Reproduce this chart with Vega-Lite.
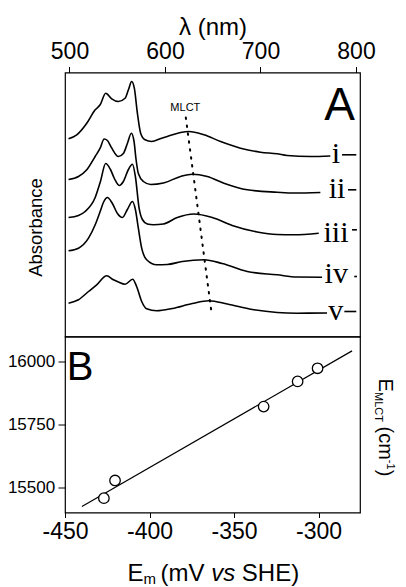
{
  "$schema": "https://vega.github.io/schema/vega-lite/v6.json",
  "background": "white",
  "padding": {"left": 6, "top": 14.5, "right": 0, "bottom": 0},
  "spacing": 0,
  "bounds": "flush",
  "config": {
    "view": {"stroke": "black", "strokeWidth": 1.2},
    "font": "Liberation Sans",
    "axis": {"grid": false, "domain": false, "labelColor": "black", "titleColor": "black", "tickColor": "black", "labelFont": "Liberation Sans", "titleFont": "Liberation Sans", "titleFontWeight": "normal", "labelFlush": false, "labelOverlap": false}
  },
  "datasets": {
    "spectra": [
      {"s":"i","p":"main","nm":499.0,"abs":197.7},{"s":"i","p":"main","nm":507.6,"abs":201.7},{"s":"i","p":"main","nm":518.1,"abs":213.3},{"s":"i","p":"main","nm":526.9,"abs":226.7},{"s":"i","p":"main","nm":532.1,"abs":231.7},{"s":"i","p":"main","nm":537.9,"abs":243.3},{"s":"i","p":"main","nm":544.2,"abs":237.7},{"s":"i","p":"main","nm":551.2,"abs":235},{"s":"i","p":"main","nm":558.2,"abs":238.3},{"s":"i","p":"main","nm":561.7,"abs":246.7},{"s":"i","p":"main","nm":565.1,"abs":255},{"s":"i","p":"main","nm":567.9,"abs":248.3},{"s":"i","p":"main","nm":571.1,"abs":223.3},{"s":"i","p":"main","nm":574.5,"abs":203.3},{"s":"i","p":"main","nm":579.1,"abs":196.7},{"s":"i","p":"main","nm":586.0,"abs":195},{"s":"i","p":"main","nm":596.5,"abs":198.3},{"s":"i","p":"main","nm":602.4,"abs":200},{"s":"i","p":"main","nm":616.3,"abs":204},{"s":"i","p":"main","nm":625.1,"abs":205},{"s":"i","p":"main","nm":640.8,"abs":201.7},{"s":"i","p":"main","nm":658.2,"abs":195},{"s":"i","p":"main","nm":679.1,"abs":188.3},{"s":"i","p":"main","nm":700.0,"abs":184.3},{"s":"i","p":"main","nm":717.4,"abs":182.7},{"s":"i","p":"main","nm":727.9,"abs":181},{"s":"i","p":"main","nm":752.2,"abs":180},{"s":"i","p":"main","nm":773.1,"abs":180.5},
      {"s":"i","p":"tail","nm":785.4,"abs":181.7},{"s":"i","p":"tail","nm":800.3,"abs":181.7},
      {"s":"ii","p":"main","nm":499.0,"abs":157},{"s":"ii","p":"main","nm":509.4,"abs":160},{"s":"ii","p":"main","nm":518.1,"abs":166.7},{"s":"ii","p":"main","nm":526.9,"abs":180},{"s":"ii","p":"main","nm":532.1,"abs":188.3},{"s":"ii","p":"main","nm":536.3,"abs":197.5},{"s":"ii","p":"main","nm":539.7,"abs":196},{"s":"ii","p":"main","nm":543.9,"abs":189},{"s":"ii","p":"main","nm":551.2,"abs":180},{"s":"ii","p":"main","nm":556.4,"abs":183},{"s":"ii","p":"main","nm":560.6,"abs":193},{"s":"ii","p":"main","nm":564.8,"abs":203.3},{"s":"ii","p":"main","nm":567.6,"abs":195},{"s":"ii","p":"main","nm":569.7,"abs":177},{"s":"ii","p":"main","nm":572.1,"abs":163},{"s":"ii","p":"main","nm":577.4,"abs":155},{"s":"ii","p":"main","nm":585.0,"abs":152},{"s":"ii","p":"main","nm":598.3,"abs":153.5},{"s":"ii","p":"main","nm":616.3,"abs":160},{"s":"ii","p":"main","nm":628.6,"abs":162.3},{"s":"ii","p":"main","nm":644.3,"abs":160},{"s":"ii","p":"main","nm":661.7,"abs":153.3},{"s":"ii","p":"main","nm":686.1,"abs":146.7},{"s":"ii","p":"main","nm":717.4,"abs":144.3},{"s":"ii","p":"main","nm":734.9,"abs":143.5},{"s":"ii","p":"main","nm":762.7,"abs":144},
      {"s":"ii","p":"tail","nm":791.6,"abs":146.7},{"s":"ii","p":"tail","nm":800.3,"abs":146.7},
      {"s":"iii","p":"main","nm":499.0,"abs":119},{"s":"iii","p":"main","nm":509.4,"abs":121},{"s":"iii","p":"main","nm":516.4,"abs":125},{"s":"iii","p":"main","nm":526.9,"abs":139},{"s":"iii","p":"main","nm":532.4,"abs":155},{"s":"iii","p":"main","nm":537.9,"abs":173},{"s":"iii","p":"main","nm":542.9,"abs":167},{"s":"iii","p":"main","nm":547.0,"abs":158},{"s":"iii","p":"main","nm":552.0,"abs":151},{"s":"iii","p":"main","nm":556.4,"abs":155},{"s":"iii","p":"main","nm":561.7,"abs":167},{"s":"iii","p":"main","nm":565.9,"abs":172.3},{"s":"iii","p":"main","nm":569.0,"abs":160},{"s":"iii","p":"main","nm":572.9,"abs":128.3},{"s":"iii","p":"main","nm":576.3,"abs":117},{"s":"iii","p":"main","nm":581.5,"abs":112.5},{"s":"iii","p":"main","nm":587.8,"abs":111.7},{"s":"iii","p":"main","nm":598.3,"abs":112.5},{"s":"iii","p":"main","nm":612.9,"abs":119},{"s":"iii","p":"main","nm":630.3,"abs":122.5},{"s":"iii","p":"main","nm":649.5,"abs":119},{"s":"iii","p":"main","nm":670.4,"abs":111},{"s":"iii","p":"main","nm":696.5,"abs":104.5},{"s":"iii","p":"main","nm":717.4,"abs":102},{"s":"iii","p":"main","nm":734.9,"abs":101.7},{"s":"iii","p":"main","nm":761.0,"abs":103.3},
      {"s":"iii","p":"tail","nm":795.8,"abs":106.7},{"s":"iii","p":"tail","nm":801.0,"abs":106.7},
      {"s":"iv","p":"main","nm":499.0,"abs":85.7},{"s":"iv","p":"main","nm":509.4,"abs":88.3},{"s":"iv","p":"main","nm":519.9,"abs":98.3},{"s":"iv","p":"main","nm":526.9,"abs":111.7},{"s":"iv","p":"main","nm":532.1,"abs":125},{"s":"iv","p":"main","nm":535.5,"abs":134},{"s":"iv","p":"main","nm":539.7,"abs":139},{"s":"iv","p":"main","nm":544.9,"abs":133},{"s":"iv","p":"main","nm":550.2,"abs":123},{"s":"iv","p":"main","nm":555.4,"abs":119},{"s":"iv","p":"main","nm":560.6,"abs":127},{"s":"iv","p":"main","nm":565.9,"abs":135},{"s":"iv","p":"main","nm":569.0,"abs":127},{"s":"iv","p":"main","nm":572.1,"abs":108.3},{"s":"iv","p":"main","nm":575.6,"abs":88.3},{"s":"iv","p":"main","nm":580.8,"abs":76.7},{"s":"iv","p":"main","nm":591.3,"abs":71.7},{"s":"iv","p":"main","nm":602.4,"abs":72},{"s":"iv","p":"main","nm":618.1,"abs":75},{"s":"iv","p":"main","nm":640.8,"abs":76.7},{"s":"iv","p":"main","nm":659.9,"abs":73},{"s":"iv","p":"main","nm":686.1,"abs":65},{"s":"iv","p":"main","nm":717.4,"abs":61.7},{"s":"iv","p":"main","nm":738.3,"abs":59.5},{"s":"iv","p":"main","nm":764.5,"abs":59.3},
      {"s":"iv","p":"tail","nm":798.2,"abs":60},{"s":"iv","p":"tail","nm":801.0,"abs":60},
      {"s":"v","p":"main","nm":499.0,"abs":33.3},{"s":"v","p":"main","nm":509.4,"abs":36.7},{"s":"v","p":"main","nm":519.9,"abs":45},{"s":"v","p":"main","nm":528.5,"abs":51.7},{"s":"v","p":"main","nm":539.0,"abs":60.7},{"s":"v","p":"main","nm":546.0,"abs":56.7},{"s":"v","p":"main","nm":551.2,"abs":54.5},{"s":"v","p":"main","nm":558.2,"abs":52.3},{"s":"v","p":"main","nm":566.2,"abs":57.3},{"s":"v","p":"main","nm":570.3,"abs":50},{"s":"v","p":"main","nm":575.6,"abs":35},{"s":"v","p":"main","nm":580.8,"abs":27.7},{"s":"v","p":"main","nm":591.3,"abs":25.7},{"s":"v","p":"main","nm":607.7,"abs":28},{"s":"v","p":"main","nm":628.6,"abs":33},{"s":"v","p":"main","nm":646.0,"abs":35.7},{"s":"v","p":"main","nm":665.2,"abs":32.5},{"s":"v","p":"main","nm":691.3,"abs":27},{"s":"v","p":"main","nm":717.4,"abs":24},{"s":"v","p":"main","nm":738.3,"abs":23.3},{"s":"v","p":"main","nm":769.7,"abs":23.5},
      {"s":"v","p":"tail","nm":787.8,"abs":25},{"s":"v","p":"tail","nm":800.3,"abs":25}
    ],
    "mlct": [{"nm":621.8,"abs":219},{"nm":648.7,"abs":24}],
    "labels": [
      {"s":"i","nm":779.1,"abs":173.3},{"s":"ii","nm":780.1,"abs":138.3},{"s":"iii","nm":779.1,"abs":95},{"s":"iv","nm":779.3,"abs":53.3},{"s":"v","nm":778.9,"abs":16.7}
    ],
    "fit": [{"em":-440,"e":15425},{"em":-280.2,"e":16042}],
    "redox": [{"em":-427,"e":15458},{"em":-420.4,"e":15528},{"em":-332.5,"e":15821},{"em":-312.4,"e":15921},{"em":-300.6,"e":15973}]
  },
  "vconcat": [
    {
      "width": 295,
      "height": 264,
      "layer": [
        {
          "data": {"name": "spectra"},
          "mark": {"type": "line", "interpolate": "monotone", "color": "black", "strokeWidth": 1.6},
          "encoding": {
            "x": {"field": "nm", "type": "quantitative", "scale": {"domain": [495.3, 804.2], "nice": false, "zero": false},
                  "axis": {"orient": "top", "values": [500, 600, 700, 800], "title": "λ (nm)", "labelFontSize": 23, "tickSize": 6, "labelPadding": 3.5, "titleFontSize": 24, "titlePadding": 0.5}},
            "y": {"field": "abs", "type": "quantitative", "scale": {"domain": [0, 264], "nice": false, "zero": false},
                  "axis": {"title": "Absorbance", "labels": false, "ticks": false, "titleFontSize": 18.5, "titlePadding": 20, "titleY": 154.5}},
            "detail": [{"field": "s"}, {"field": "p"}]
          }
        },
        {
          "data": {"name": "mlct"},
          "mark": {"type": "line", "color": "black", "strokeWidth": 2, "strokeDash": [1.5, 6.5], "strokeCap": "round"},
          "encoding": {
            "x": {"field": "nm", "type": "quantitative"},
            "y": {"field": "abs", "type": "quantitative"}
          }
        },
        {
          "data": {"name": "labels"},
          "mark": {"type": "text", "font": "Liberation Serif", "fontSize": 30, "align": "center", "baseline": "alphabetic", "color": "black"},
          "encoding": {
            "x": {"field": "nm", "type": "quantitative"},
            "y": {"field": "abs", "type": "quantitative"},
            "text": {"field": "s"}
          }
        },
        {
          "data": {"values": [{"t": "A"}]},
          "mark": {"type": "text", "font": "Liberation Sans", "fontSize": 46, "align": "right", "baseline": "alphabetic", "color": "black"},
          "encoding": {
            "x": {"datum": 799, "type": "quantitative"},
            "y": {"datum": 217, "type": "quantitative"},
            "text": {"field": "t"}
          }
        },
        {
          "data": {"values": [{"t": "MLCT"}]},
          "mark": {"type": "text", "font": "Liberation Sans", "fontSize": 11, "align": "center", "baseline": "alphabetic", "color": "black"},
          "encoding": {
            "x": {"datum": 621.3, "type": "quantitative"},
            "y": {"datum": 225.7, "type": "quantitative"},
            "text": {"field": "t"}
          }
        }
      ]
    },
    {
      "width": 295,
      "height": 176,
      "layer": [
        {
          "data": {"name": "fit"},
          "mark": {"type": "line", "color": "black", "strokeWidth": 1.2},
          "encoding": {
            "x": {"field": "em", "type": "quantitative", "scale": {"domain": [-450, -275.5], "nice": false, "zero": false},
                  "axis": {"values": [-450, -400, -350, -300], "title": null, "labelFontSize": 23, "tickSize": 5, "labelPadding": 2.5, "labelExpr": "'' + datum.value"}},
            "y": {"field": "e", "type": "quantitative", "scale": {"domain": [15401, 16099], "nice": false, "zero": false},
                  "axis": {"values": [15500, 15750, 16000], "title": null, "labelFontSize": 17, "tickSize": 7, "labelPadding": 3.3, "labelExpr": "'' + datum.value"}}
          }
        },
        {
          "data": {"name": "redox"},
          "mark": {"type": "point", "shape": "circle", "filled": true, "fill": "white", "stroke": "black", "strokeWidth": 1.3, "size": 110, "opacity": 1},
          "encoding": {
            "x": {"field": "em", "type": "quantitative"},
            "y": {"field": "e", "type": "quantitative"}
          }
        },
        {
          "data": {"values": [{"t": "B"}]},
          "mark": {"type": "text", "fontSize": 40, "align": "left", "baseline": "alphabetic", "color": "black"},
          "encoding": {
            "x": {"datum": -449, "type": "quantitative"},
            "y": {"datum": 15927, "type": "quantitative"},
            "text": {"field": "t"}
          }
        },
        {
          "data": {"values": [{"t": "E"}]},
          "mark": {"type": "text", "fontSize": 24, "align": "left", "baseline": "alphabetic", "color": "black"},
          "encoding": {"x": {"datum": -413.0, "type": "quantitative"}, "y": {"datum": 15127.4, "type": "quantitative"}, "text": {"field": "t"}}
        },
        {
          "data": {"values": [{"t": "m"}]},
          "mark": {"type": "text", "fontSize": 15, "align": "left", "baseline": "alphabetic", "color": "black"},
          "encoding": {"x": {"datum": -403.6, "type": "quantitative"}, "y": {"datum": 15119.4, "type": "quantitative"}, "text": {"field": "t"}}
        },
        {
          "data": {"values": [{"t": "(mV"}]},
          "mark": {"type": "text", "fontSize": 24, "align": "left", "baseline": "alphabetic", "color": "black"},
          "encoding": {"x": {"datum": -393.5, "type": "quantitative"}, "y": {"datum": 15127.4, "type": "quantitative"}, "text": {"field": "t"}}
        },
        {
          "data": {"values": [{"t": "vs"}]},
          "mark": {"type": "text", "fontSize": 24, "fontStyle": "italic", "align": "left", "baseline": "alphabetic", "color": "black"},
          "encoding": {"x": {"datum": -363.5, "type": "quantitative"}, "y": {"datum": 15127.4, "type": "quantitative"}, "text": {"field": "t"}}
        },
        {
          "data": {"values": [{"t": "SHE)"}]},
          "mark": {"type": "text", "fontSize": 24, "align": "left", "baseline": "alphabetic", "color": "black"},
          "encoding": {"x": {"datum": -345.4, "type": "quantitative"}, "y": {"datum": 15127.4, "type": "quantitative"}, "text": {"field": "t"}}
        },
        {
          "data": {"values": [{"t": "E"}]},
          "mark": {"type": "text", "fontSize": 20, "angle": 90, "align": "left", "baseline": "alphabetic", "color": "black"},
          "encoding": {"x": {"datum": -264.1, "type": "quantitative"}, "y": {"datum": 15932.4, "type": "quantitative"}, "text": {"field": "t"}}
        },
        {
          "data": {"values": [{"t": "MLCT"}]},
          "mark": {"type": "text", "fontSize": 11, "angle": 90, "align": "left", "baseline": "alphabetic", "color": "black"},
          "encoding": {"x": {"datum": -266.9, "type": "quantitative"}, "y": {"datum": 15878.9, "type": "quantitative"}, "text": {"field": "t"}}
        },
        {
          "data": {"values": [{"t": "(cm"}]},
          "mark": {"type": "text", "fontSize": 20, "angle": 90, "align": "left", "baseline": "alphabetic", "color": "black"},
          "encoding": {"x": {"datum": -264.1, "type": "quantitative"}, "y": {"datum": 15742.1, "type": "quantitative"}, "text": {"field": "t"}}
        },
        {
          "data": {"values": [{"t": "-1"}]},
          "mark": {"type": "text", "fontSize": 11, "angle": 90, "align": "left", "baseline": "alphabetic", "color": "black"},
          "encoding": {"x": {"datum": -259.3, "type": "quantitative"}, "y": {"datum": 15610, "type": "quantitative"}, "text": {"field": "t"}}
        },
        {
          "data": {"values": [{"t": ")"}]},
          "mark": {"type": "text", "fontSize": 20, "angle": 90, "align": "left", "baseline": "alphabetic", "color": "black"},
          "encoding": {"x": {"datum": -264.1, "type": "quantitative"}, "y": {"datum": 15570.3, "type": "quantitative"}, "text": {"field": "t"}}
        }
      ]
    }
  ]
}
